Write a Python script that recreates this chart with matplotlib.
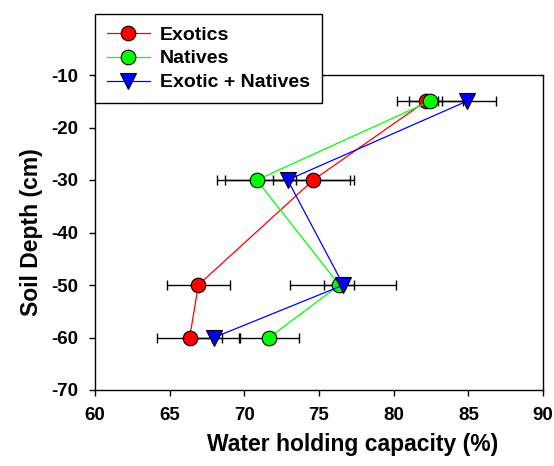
import matplotlib
matplotlib.use("Agg")
import matplotlib.pyplot as plt

plt.rcParams['font.family'] = ['Liberation Sans', 'DejaVu Sans']
plt.rcParams['font.weight'] = 'bold'
plt.rcParams['axes.unicode_minus'] = False

depth = [-15, -30, -50, -60]
exotics = [82.15, 74.62, 66.92, 66.34]
exotics_err = [1.1, 2.7, 2.12, 2.18]
natives = [82.43, 70.83, 76.36, 71.67]
natives_err = [2.2, 2.66, 1.0, 2.0]
combined = [84.89, 72.90, 76.63, 67.97]
combined_err = [1.95, 4.2, 3.55, 1.75]

x_ticks = [60, 65, 70, 75, 80, 85, 90]
y_ticks = [-10, -20, -30, -40, -50, -60, -70]

fig = plt.figure(figsize=(5.54, 4.66), dpi=100)
ax = fig.add_axes([95/554, 1-390/466, 448/554, 315/466])

series = [
    ("Exotics", exotics, exotics_err, '#ff0000', 'o', 10.5),
    ("Natives", natives, natives_err, '#00ff00', 'o', 10.5),
    ("Exotic + Natives", combined, combined_err, '#0000ff', 'v', 12),
]
handles = []
for i, (name, xs, err, col, mk, ms) in enumerate(series):
    ax.errorbar(xs, depth, xerr=err, fmt='none', ecolor='black', elinewidth=1.0,
                capsize=3.5, capthick=1.0, zorder=2 + i * 0.1)
    h, = ax.plot(xs, depth, color=col, lw=0.9, marker=mk, markersize=ms,
                 markerfacecolor=col, markeredgecolor='black', markeredgewidth=0.8,
                 zorder=3 + i * 0.1, label=name)
    handles.append(h)

ax.set_xlim(60, 90)
ax.set_ylim(-70, -10)
ax.set_xticks(x_ticks)
ax.set_yticks(y_ticks)
ax.tick_params(axis='both', labelsize=13.5, direction='out', length=4, width=1, pad=8)
ax.tick_params(top=False, right=False)
for lbl in ax.get_xticklabels() + ax.get_yticklabels():
    lbl.set_fontweight('bold')
for sp in ax.spines.values():
    sp.set_linewidth(1.0)

ax.set_xlabel("Water holding capacity (%)", fontsize=16.5, fontweight='bold', labelpad=8)
ax.xaxis.set_label_coords(0.575, -0.135)
ax.set_ylabel("Soil Depth (cm)", fontsize=16.5, fontweight='bold', labelpad=6)

leg = fig.legend(handles=handles, loc='upper left',
                 bbox_to_anchor=(95/554, 1-14/466), frameon=True, fancybox=False,
                 edgecolor='black', framealpha=1, prop={'size': 14, 'weight': 'bold'},
                 handlelength=2.2, handletextpad=0.5, labelspacing=0.32, borderpad=0.62,
                 borderaxespad=0)
leg.get_frame().set_linewidth(1.0)
leg.set_zorder(10)

fig.savefig("out.png", dpi=100)
